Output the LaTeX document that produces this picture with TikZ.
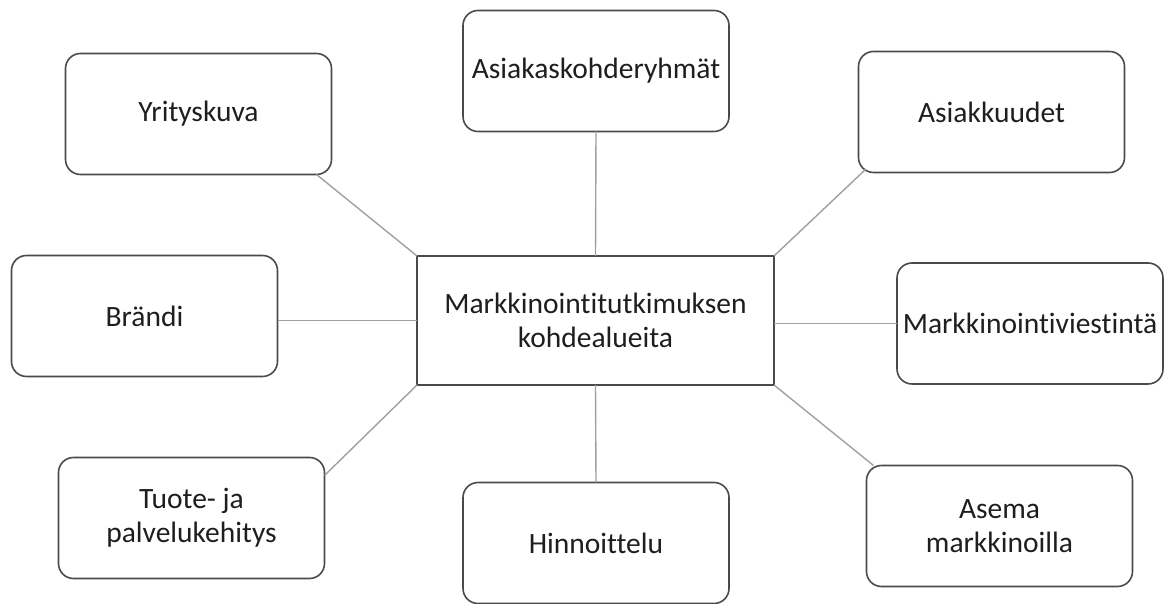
\documentclass[tikz,border=0pt]{standalone}
\usepackage{fontspec}
\setmainfont{Carlito}[Ligatures=NoCommon]
\definecolor{boxline}{HTML}{4A4A4A}
\definecolor{conn}{HTML}{A0A0A0}
\definecolor{txt}{HTML}{1E1E1E}
\begin{document}
\begin{tikzpicture}[x=1pt,y=1pt,
  topic/.style={draw=boxline,line width=1.6pt,rounded corners=15pt,fill=white,
    minimum width=266pt,minimum height=121pt,inner sep=0pt,outer sep=0pt,
    align=center,text=txt,font=\fontsize{29.5}{34}\selectfont},
  hub/.style={draw=boxline,line width=1.6pt,fill=white,
    minimum width=357pt,minimum height=129pt,inner sep=0pt,outer sep=0pt,
    align=center,text=txt,font=\fontsize{29.5}{34}\selectfont},
  link/.style={draw=conn,line width=1.4pt}]
\useasboundingbox (0,0) rectangle (1167,604);
\node[hub] (C) at (595.5,283.5) {Markkinointitutkimuksen\\kohdealueita};
\node[topic] (Y) at (198.5,490) {Yrityskuva};
\node[topic] (AK) at (596,533) {Asiakaskohderyhmät};
\node[topic] (AS) at (991.5,492) {Asiakkuudet};
\node[topic] (B) at (144.5,288) {Brändi};
\node[topic] (MV) at (1030,280.5) {Markkinointiviestintä};
\node[topic] (T) at (191.5,86) {Tuote- ja\\palvelukehitys};
\node[topic] (H) at (596,61) {Hinnoittelu};
\node[topic] (AM) at (999.5,78) {Asema\\markkinoilla};
\draw[link] (C.north west) -- ([xshift=-15pt]Y.south east);
\draw[link] (C.north) -- (AK.south);
\draw[link] (C.north east) -- ([shift={(7pt,3pt)}]AS.south west);
\draw[link] (C.west) -- (C.west -| B.east);
\draw[link] (MV.west) -- (MV.west -| C.east);
\draw[link] (C.south west) -- ([yshift=-18pt]T.north east);
\draw[link] (C.south) -- (H.north);
\draw[link] (C.south east) -- ([xshift=7pt]AM.north west);
\end{tikzpicture}
\end{document}
